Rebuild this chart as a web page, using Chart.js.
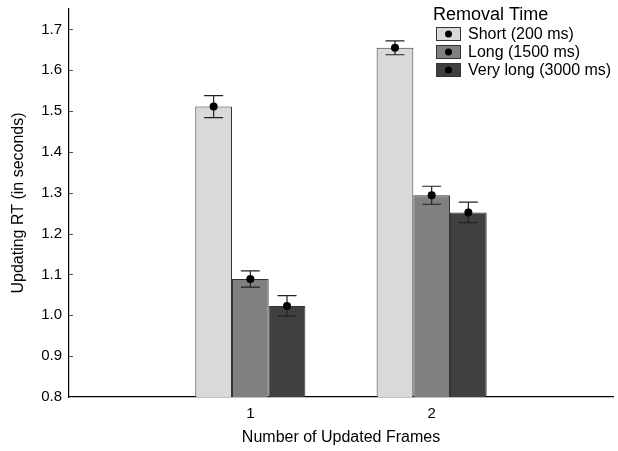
<!DOCTYPE html>
<html>
<head>
<meta charset="utf-8">
<script src="https://cdn.jsdelivr.net/npm/chart.js@4/dist/chart.umd.min.js"></script>
<style>
  html, body { margin: 0; padding: 0; background: #fff; }
  #wrap { width: 618px; height: 451px; }
</style>
</head>
<body>
<div id="wrap"><canvas id="rtChart" width="618" height="451"></canvas></div>
<script>
// --- data ---
const frameLabels = ['', '1', '2', ''];
const seriesNames = ['Short (200 ms)', 'Long (1500 ms)', 'Very long (3000 ms)'];
const shortMeans = [null, 1.511, 1.655, null];
const longMeans = [null, 1.089, 1.294, null];
const veryLongMeans = [null, 1.023, 1.252, null];
const shortErr = [0, 0.027, 0.017, 0];
const longErr = [0, 0.020, 0.022, 0];
const veryLongErr = [0, 0.025, 0.025, 0];
const yTicks = [0.8, 0.9, 1.0, 1.1, 1.2, 1.3, 1.4, 1.5, 1.6, 1.7];

const fills = ['#d9d9d9', '#808080', '#404040'];
const FONT = 'Liberation Sans, Arial, sans-serif';

// error bars + centre dots on each bar
const errorBars = {
    id: 'errorBars',
    afterDatasetsDraw(chart) {
        const ctx = chart.ctx;
        const y = chart.scales.y;
        chart.data.datasets.forEach((ds, di) => {
            const meta = chart.getDatasetMeta(di);
            meta.data.forEach((bar, i) => {
                const v = ds.data[i];
                if (v == null) return;
                const e = ds.errors[i];
                const yTop = y.getPixelForValue(v + e);
                const yBot = y.getPixelForValue(v - e);
                const x = bar.x;
                ctx.save();
                ctx.strokeStyle = '#222';
                ctx.lineWidth = 1.2;
                ctx.beginPath();
                ctx.moveTo(x, yTop); ctx.lineTo(x, yBot);
                ctx.moveTo(x - 9.5, yTop); ctx.lineTo(x + 9.5, yTop);
                ctx.moveTo(x - 9.5, yBot); ctx.lineTo(x + 9.5, yBot);
                ctx.stroke();
                ctx.fillStyle = '#000';
                ctx.beginPath();
                ctx.arc(x, y.getPixelForValue(v), 4, 0, Math.PI * 2);
                ctx.fill();
                ctx.restore();
            });
        });
    }
};

// small inward tick marks on the y axis
const innerTicks = {
    id: 'innerTicks',
    afterDraw(chart) {
        const ctx = chart.ctx;
        const y = chart.scales.y;
        const x0 = chart.chartArea.left;
        ctx.save();
        ctx.strokeStyle = '#555';
        ctx.lineWidth = 1;
        yTicks.forEach(t => {
            if (t === yTicks[0]) return;
            const py = Math.round(y.getPixelForValue(t)) + 0.5;
            ctx.beginPath();
            ctx.moveTo(x0, py); ctx.lineTo(x0 + 4, py);
            ctx.stroke();
        });
        ctx.restore();
    }
};

// legend box in the top right corner
const cornerLegend = {
    id: 'cornerLegend',
    afterDraw(chart) {
        const ctx = chart.ctx;
        ctx.save();
        ctx.fillStyle = '#000';
        ctx.textBaseline = 'middle';
        ctx.textAlign = 'left';
        ctx.font = '18px ' + FONT;
        ctx.fillText('Removal Time', 433, 15);
        ctx.font = '16px ' + FONT;
        chart.data.datasets.forEach((ds, i) => {
            const cy = 34 + i * 18;
            ctx.fillStyle = ds.backgroundColor;
            ctx.fillRect(436.5, cy - 6.5, 24, 13);
            ctx.strokeStyle = '#333';
            ctx.lineWidth = 1;
            ctx.strokeRect(436.5, cy - 6.5, 24, 13);
            ctx.fillStyle = '#000';
            ctx.beginPath();
            ctx.arc(448.5, cy, 3.5, 0, Math.PI * 2);
            ctx.fill();
            ctx.fillText(ds.label, 468, cy + 1);
        });
        ctx.restore();
    }
};

const makeSet = (i, values, errs) => ({
    label: seriesNames[i],
    data: values,
    errors: errs,
    backgroundColor: fills[i],
    borderColor: '#333',
    borderWidth: 1,
    categoryPercentage: 0.607,
    barPercentage: 1.0
});

new Chart(document.getElementById('rtChart'), {
    type: 'bar',
    data: {
        labels: frameLabels,
        datasets: [
            makeSet(0, shortMeans, shortErr),
            makeSet(1, longMeans, longErr),
            makeSet(2, veryLongMeans, veryLongErr)
        ]
    },
    options: {
        responsive: false,
        animation: false,
        layout: { padding: { top: 9, right: 5, left: 0, bottom: 0 } },
        plugins: {
            legend: { display: false },
            tooltip: { enabled: false }
        },
        scales: {
            x: {
                offset: false,
                grid: { display: false, drawTicks: false },
                border: { display: true, color: '#000', width: 1.2 },
                ticks: { color: '#000', font: { family: FONT, size: 15 }, padding: 8, maxRotation: 0 },
                title: {
                    display: true, text: 'Number of Updated Frames', color: '#000',
                    font: { family: FONT, size: 16 }, padding: { top: 4, bottom: 4 }
                },
                afterFit(s) {
                    s.height = 54;
                    s.paddingLeft = 0; s.paddingRight = 0;
                }
            },
            y: {
                min: 0.8,
                max: 1.75,
                afterBuildTicks(s) { s.ticks = yTicks.map(v => ({ value: v })); },
                grid: { display: false, drawTicks: false },
                border: { display: true, color: '#000', width: 1.2 },
                ticks: {
                    color: '#000', font: { family: FONT, size: 15 }, padding: 7,
                    callback: v => Number(v).toFixed(1)
                },
                title: {
                    display: true, text: 'Updating RT (in seconds)', color: '#000',
                    font: { family: FONT, size: 16 }, padding: { top: 9, bottom: 0 }
                },
                afterFit(s) {
                    s.width = 69;
                    s.paddingTop = 0; s.paddingBottom = 0;
                }
            }
        }
    },
    plugins: [errorBars, innerTicks, cornerLegend]
});
</script>
</body>
</html>
